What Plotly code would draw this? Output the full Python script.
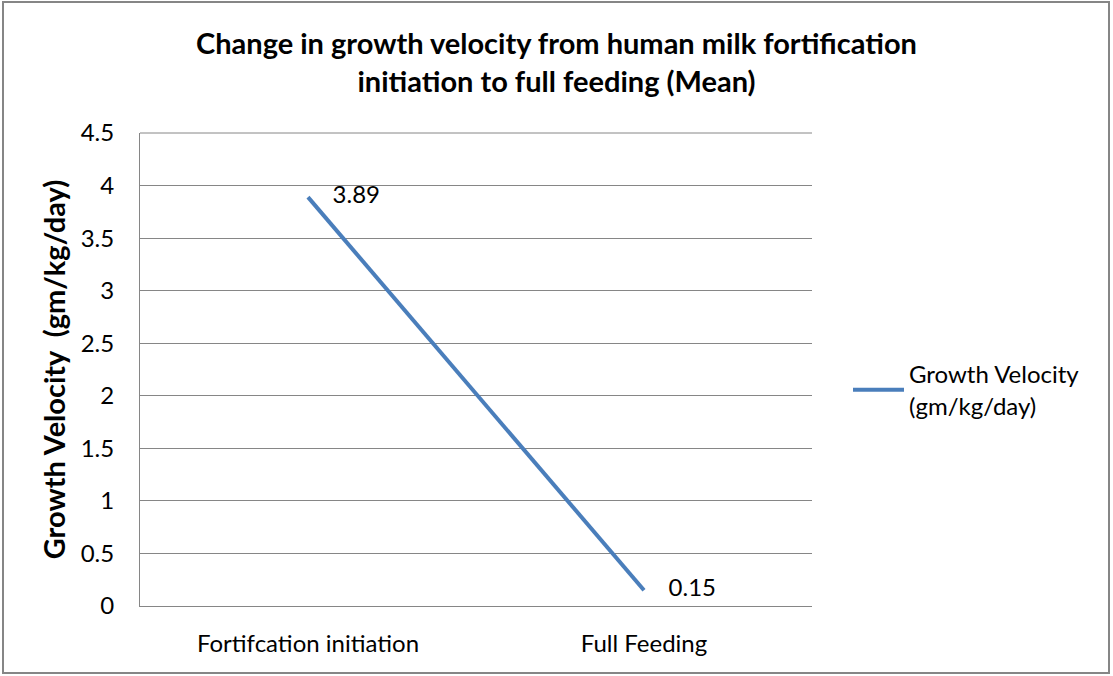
import plotly.graph_objects as go

categories = ["Fortifcation initiation", "Full Feeding"]
values = [3.89, 0.15]
labels = ["3.89", "0.15"]
series_name = "Growth Velocity<br>(gm/kg/day)"
y_ticks = [0, 0.5, 1, 1.5, 2, 2.5, 3, 3.5, 4, 4.5]
y_ticktext = ["0", "0.5", "1", "1.5", "2", "2.5", "3", "3.5", "4", "4.5"]

FONT = "Lato"
W, H = 1113, 676
L, R, T, B = 140, 1113 - 812, 133, 676 - 606
pw, ph = W - L - R, H - T - B

fig = go.Figure()
fig.add_trace(go.Scatter(
    x=[0, 1], y=values, mode="lines+text", name=series_name,
    line=dict(color="#4A7EBB", width=4),
    text=["    " + t for t in labels], textposition="middle right",
    textfont=dict(family=FONT, size=24, color="#000000"),
    cliponaxis=False,
))

def px(x):
    return (x - L) / pw

def py(y):
    return (H - B - y) / ph

fig.add_shape(type="rect", xref="paper", yref="paper",
              x0=px(3), x1=px(1109), y0=py(2), y1=py(673),
              line=dict(color="#868686", width=2), fillcolor="rgba(0,0,0,0)", layer="below")

fig.update_layout(
    width=W, height=H,
    margin=dict(l=L, r=R, t=T, b=B),
    paper_bgcolor="white", plot_bgcolor="white",
    font=dict(family=FONT, color="#000000"),
    title=dict(text="<b>Change in growth velocity from human milk fortification<br>initiation to full feeding (Mean)</b>",
               x=0.5, xref="container", xanchor="center", y=1 - 54 / H, yanchor="middle",
               font=dict(family=FONT, size=29, color="#000000")),
    showlegend=True,
    legend=dict(x=px(848), xanchor="left", y=py(390), yanchor="middle",
                font=dict(family=FONT, size=24, color="#000000"),
                bgcolor="rgba(0,0,0,0)", itemwidth=51),
    xaxis=dict(range=[-0.5, 1.5], tickmode="array", tickvals=[0, 1], ticktext=categories,
               showgrid=False, showline=True, linecolor="#868686", linewidth=1,
               ticks="", ticklabelstandoff=16, tickfont=dict(family=FONT, size=24), zeroline=False),
    yaxis=dict(range=[0, 4.5], tickmode="array", tickvals=y_ticks, ticktext=y_ticktext,
               showgrid=True, gridcolor="#868686", gridwidth=1,
               showline=True, linecolor="#868686", linewidth=1, zeroline=False,
               ticks="", ticklabelstandoff=20, tickfont=dict(family=FONT, size=24),
               title=dict(text="<b>Growth Velocity  (gm/kg/day)</b>", standoff=6,
                          font=dict(family=FONT, size=29))),
)
fig.add_shape(type="line", xref="paper", yref="paper", x0=0, x1=1, y0=1, y1=1,
              line=dict(color="#868686", width=1))

fig.write_html("out.html", config={"displayModeBar": False},
               post_script="document.body.style.margin='0';window.dispatchEvent(new Event('resize'));")
